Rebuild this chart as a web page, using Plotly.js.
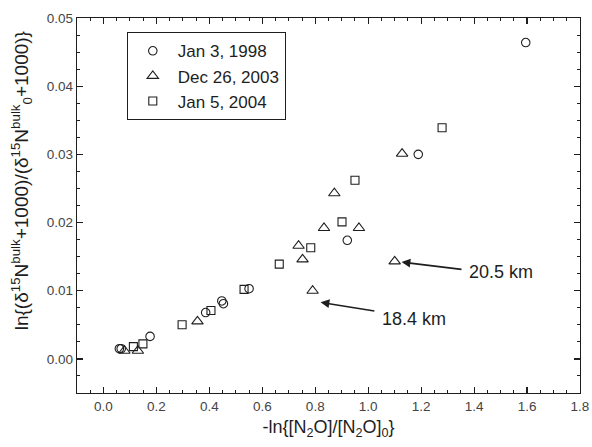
<!DOCTYPE html>
<html>
<head>
<meta charset="utf-8">
<script src="https://cdn.plot.ly/plotly-3.0.1.min.js"></script>
<style>html,body{margin:0;padding:0;background:#fff;}#chart{width:592px;height:447px;}</style>
</head>
<body>
<div id="chart"></div>
<script>
// Jan 3, 1998 (circles)
const x1998 = [0.060, 0.067, 0.176, 0.386, 0.447, 0.453, 0.550, 0.921, 1.189, 1.595];
const y1998 = [0.0015, 0.0015, 0.0033, 0.0068, 0.0085, 0.0081, 0.0103, 0.0174, 0.0300, 0.0464];
// Dec 26, 2003 (triangles)
const x2003 = [0.079, 0.130, 0.355, 0.737, 0.752, 0.790, 0.833, 0.872, 0.965, 1.100, 1.128];
const y2003 = [0.0012, 0.0012, 0.0055, 0.0166, 0.0146, 0.0100, 0.0192, 0.0243, 0.0192, 0.0143, 0.0301];
// Jan 5, 2004 (squares)
const x2004 = [0.113, 0.149, 0.297, 0.406, 0.531, 0.664, 0.783, 0.901, 0.950, 1.279];
const y2004 = [0.0018, 0.0022, 0.0050, 0.0071, 0.0102, 0.0139, 0.0163, 0.0201, 0.0262, 0.0339];
const seriesNames = ["Jan 3, 1998", "Dec 26, 2003", "Jan 5, 2004"];
// annotated points (altitude labels)
const labelTexts = ["20.5 km", "18.4 km"];
const labelPointX = [1.100, 0.790];
const labelPointY = [0.0143, 0.0100];

const ink = "#1e1e1e";
const font = "Liberation Sans, Arial, sans-serif";

function mk(x, y, name, symbol, size) {
  return {x: x, y: y, name: name, type: "scatter", mode: "markers",
    marker: {symbol: symbol, size: size, color: ink, line: {color: ink, width: 1.1}}};
}
const traces = [
  mk(x1998, y1998, seriesNames[0], "circle-open", 8.5),
  mk(x2003, y2003, seriesNames[1], "triangle-up-open", 10),
  mk(x2004, y2004, seriesNames[2], "square-open", 8)
];

const yTitle = "ln{(δ<sup>15</sup>N<sup>bulk</sup>+1000)/(δ<sup>15</sup>N<sup>bulk</sup><sub>0</sub>+1000)}";

const annotations = [
  {x: labelPointX[0] + 0.026, y: labelPointY[0] - 0.0001, ax: 1.358, ay: 0.0131, axref: "x", ayref: "y",
   xref: "x", yref: "y", text: "", showarrow: true, arrowhead: 2, arrowsize: 1.1, arrowwidth: 1.6, arrowcolor: ink},
  {x: 1.372, y: 0.0127, xref: "x", yref: "y", text: labelTexts[0], showarrow: false, xanchor: "left",
   font: {family: font, size: 18, color: ink}},
  {x: labelPointX[1] + 0.030, y: 0.0083, ax: 1.029, ay: 0.0070, axref: "x", ayref: "y",
   xref: "x", yref: "y", text: "", showarrow: true, arrowhead: 2, arrowsize: 1.1, arrowwidth: 1.6, arrowcolor: ink},
  {x: 1.043, y: 0.0058, xref: "x", yref: "y", text: labelTexts[1], showarrow: false, xanchor: "left",
   font: {family: font, size: 18, color: ink}},
  {x: -0.111, y: 0.565, xref: "paper", yref: "paper", text: yTitle, textangle: -90, showarrow: false,
   xanchor: "center", yanchor: "middle", font: {family: font, size: 19, color: ink}}
];

const layout = {
  width: 592, height: 447,
  margin: {l: 77, r: 12, t: 18, b: 54, pad: 0},
  paper_bgcolor: "#fff", plot_bgcolor: "#fff",
  font: {family: font, color: ink},
  showlegend: true,
  legend: {x: 0.099, y: 0.962, xanchor: "left", yanchor: "top",
    bordercolor: ink, borderwidth: 1, bgcolor: "#fff", itemwidth: 40,
    font: {family: font, size: 17, color: ink}},
  xaxis: {
    range: [-0.1, 1.8], tick0: 0, dtick: 0.2, tickformat: ".1f",
    ticks: "inside", ticklen: 6, tickwidth: 1.2, tickcolor: ink,
    minor: {dtick: 0.05, ticks: "inside", ticklen: 3, tickwidth: 1, tickcolor: ink},
    showline: true, linecolor: ink, linewidth: 1.3, mirror: "allticks",
    showgrid: false, zeroline: false,
    tickfont: {family: font, size: 13.5, color: "#444"},
    title: {text: "-ln{[N<sub>2</sub>O]/[N<sub>2</sub>O]<sub>0</sub>}", font: {family: font, size: 18, color: ink}, standoff: 8}
  },
  yaxis: {
    range: [-0.005, 0.05], tick0: 0, dtick: 0.01, tickformat: ".2f",
    ticks: "inside", ticklen: 6, tickwidth: 1.2, tickcolor: ink,
    minor: {dtick: 0.0025, ticks: "inside", ticklen: 3, tickwidth: 1, tickcolor: ink},
    showline: true, linecolor: ink, linewidth: 1.3, mirror: "allticks",
    showgrid: false, zeroline: false,
    tickfont: {family: font, size: 13.5, color: "#444"}
  },
  annotations: annotations
};

Plotly.newPlot("chart", traces, layout, {displayModeBar: false, staticPlot: true});
</script>
</body>
</html>
